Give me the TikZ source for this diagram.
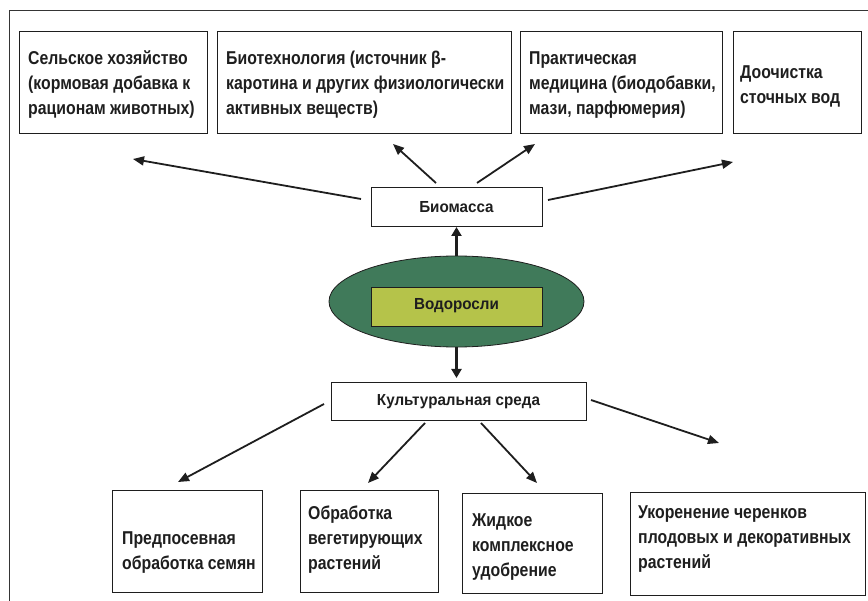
\documentclass[tikz,border=0pt]{standalone}
\usepackage{fontspec}
\setmainfont{Liberation Sans}
\newfontfamily\boxfont{Liberation Sans}[FakeStretch=0.85]
\newfontfamily\midfont{Liberation Sans}[FakeStretch=0.95]
\usetikzlibrary{arrows.meta,shapes.geometric}
\definecolor{algae}{RGB}{64,122,90}
\definecolor{algrect}{RGB}{181,195,74}
\definecolor{ink}{RGB}{30,30,30}
\tikzset{
  boxnode/.style={draw=ink, line width=1pt, rectangle, inner sep=0pt, outer sep=0pt},
  txt/.style={font=\boxfont\bfseries\fontsize{18.6}{25}\selectfont, align=left, inner sep=0pt, anchor=west, text=ink},
  midtxt/.style={font=\midfont\bfseries\fontsize{16}{18}\selectfont, inner sep=0pt, text=ink},
  arr/.style={draw=ink, line width=1.8pt, -{Triangle[length=11pt,width=9pt]}},
  fatarr/.style={draw=ink, line width=3pt, -{Triangle[length=9pt,width=10pt]}}
}
\begin{document}
\begin{tikzpicture}[x=1pt,y=-1pt]
\useasboundingbox (0,0) rectangle (868,601);
% frame
\draw[ink!90, line width=1.3pt] (9.5,601) -- (9.5,10.5) -- (868,10.5);

% top boxes
\node[boxnode, minimum width=188, minimum height=102] (b1) at (113,83) {};
\node[boxnode, minimum width=294, minimum height=102] (b2) at (364,83) {};
\node[boxnode, minimum width=202, minimum height=102] (b3) at (621,83) {};
\node[boxnode, minimum width=128, minimum height=102] (b4) at (797,83) {};
\node[txt] (t1) at (28,85) {Сельское хозяйство\\(кормовая добавка к\\рационам животных)};
\node[txt] (t2) at (226,85) {Биотехнология (источник β-\\каротина и других физиологически\\активных веществ)};
\node[txt] (t3) at (529,85) {Практическая\\медицина (биодобавки,\\мази, парфюмерия)};
\node[txt] (t4) at (740,86) {Доочистка\\сточных вод};

% middle
\node[boxnode, minimum width=171, minimum height=39] (bio) at (456.5,207.5) {};
\node[midtxt] (biot) at (456.5,207.5) {Биомасса};
\node[ellipse, draw=ink, line width=0.8pt, fill=algae, minimum width=255, minimum height=91, inner sep=0pt, outer sep=0pt] (alg) at (456.5,301.5) {};
\node[boxnode, fill=algrect, minimum width=171, minimum height=39] (algr) at (456.5,307.5) {};
\node[midtxt] (algt) at (456.5,306) {Водоросли};
\node[boxnode, minimum width=255, minimum height=38] (cult) at (458.5,402) {};
\node[midtxt] (cultt) at (458.5,402) {Культуральная среда};

% bottom boxes
\node[boxnode, minimum width=150, minimum height=101] (b5) at (187,541.5) {};
\node[boxnode, minimum width=138, minimum height=101] (b6) at (369,541.5) {};
\node[boxnode, minimum width=140, minimum height=99] (b7) at (532,543.5) {};
\node[boxnode, minimum width=235, minimum height=102] (b8) at (747.5,544) {};
\node[txt] (t5) at (122,552.5) {Предпосевная\\обработка семян};
\node[txt] (t6) at (308,540) {Обработка\\вегетирующих\\растений};
\node[txt] (t7) at (472,547) {Жидкое\\комплексное\\удобрение};
\node[txt] (t8) at (638,539) {Укоренение черенков\\плодовых и декоративных\\растений};

% arrow end points
\coordinate (a1s) at (361,199); \coordinate (a1e) at (133,159);
\coordinate (a2s) at (436,183); \coordinate (a2e) at (393,144);
\coordinate (a3s) at (477,183); \coordinate (a3e) at (535,144);
\coordinate (a4s) at (548,200); \coordinate (a4e) at (733,162);
\coordinate (c1s) at (324,404); \coordinate (c1e) at (178,482);
\coordinate (c2s) at (425,423); \coordinate (c2e) at (368,483);
\coordinate (c3s) at (481,423); \coordinate (c3e) at (537,483);
\coordinate (c4s) at (591,400); \coordinate (c4e) at (719,443);

\draw[arr] (a1s) -- (a1e);
\draw[arr] (a2s) -- (a2e);
\draw[arr] (a3s) -- (a3e);
\draw[arr] (a4s) -- (a4e);
\draw[arr] (c1s) -- (c1e);
\draw[arr] (c2s) -- (c2e);
\draw[arr] (c3s) -- (c3e);
\draw[arr] (c4s) -- (c4e);

\draw[fatarr] (alg.north) -- (bio.south);
\draw[fatarr, shorten >=5pt] (alg.south) -- (alg.south |- cult.north);
\end{tikzpicture}
\end{document}
